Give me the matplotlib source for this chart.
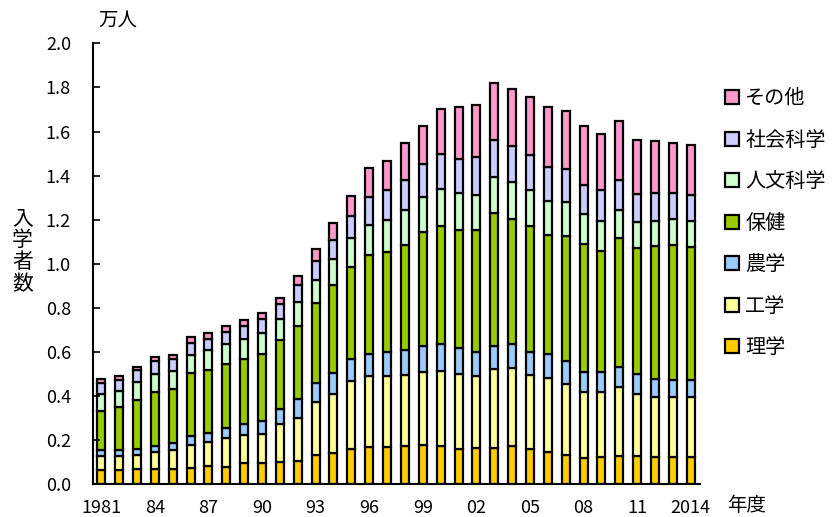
import matplotlib.pyplot as plt
import numpy as np

plt.rcParams['font.family'] = ['Noto Sans CJK JP', 'DejaVu Sans']

years = list(range(1981, 2015))
year_labels = ["1981", "84", "87", "90", "93", "96", "99", "02", "05", "08", "11", "2014"]

# 入学者数 (万人), by field, bottom to top of each stack
rigaku = [0.062, 0.062, 0.066, 0.066, 0.066, 0.071, 0.083, 0.078, 0.093, 0.093,
          0.101, 0.106, 0.131, 0.139, 0.160, 0.169, 0.169, 0.172, 0.177, 0.174,
          0.160, 0.162, 0.162, 0.172, 0.157, 0.146, 0.131, 0.119, 0.124, 0.127,
          0.127, 0.124, 0.124, 0.124]
kogaku = [0.066, 0.065, 0.065, 0.078, 0.088, 0.106, 0.109, 0.129, 0.129, 0.135,
          0.171, 0.195, 0.243, 0.268, 0.308, 0.321, 0.321, 0.323, 0.330, 0.339,
          0.340, 0.328, 0.359, 0.356, 0.338, 0.337, 0.322, 0.297, 0.292, 0.315,
          0.282, 0.272, 0.269, 0.272]
nogaku = [0.024, 0.027, 0.028, 0.028, 0.033, 0.041, 0.038, 0.046, 0.049, 0.058,
          0.067, 0.083, 0.083, 0.096, 0.101, 0.100, 0.111, 0.111, 0.117, 0.122,
          0.116, 0.110, 0.107, 0.107, 0.105, 0.109, 0.106, 0.094, 0.094, 0.090,
          0.089, 0.081, 0.079, 0.076]
hoken = [0.180, 0.194, 0.222, 0.246, 0.243, 0.285, 0.289, 0.290, 0.294, 0.303,
         0.315, 0.334, 0.364, 0.401, 0.415, 0.449, 0.450, 0.480, 0.518, 0.534,
         0.538, 0.554, 0.602, 0.568, 0.572, 0.536, 0.565, 0.580, 0.549, 0.583,
         0.573, 0.604, 0.613, 0.605]
jinbun = [0.078, 0.074, 0.081, 0.080, 0.083, 0.083, 0.087, 0.091, 0.091, 0.094,
          0.096, 0.109, 0.106, 0.117, 0.132, 0.138, 0.149, 0.156, 0.159, 0.171,
          0.167, 0.159, 0.163, 0.169, 0.161, 0.158, 0.156, 0.135, 0.136, 0.129,
          0.118, 0.114, 0.119, 0.118]
shakai = [0.048, 0.050, 0.053, 0.058, 0.053, 0.053, 0.054, 0.056, 0.061, 0.065,
          0.066, 0.077, 0.083, 0.085, 0.099, 0.124, 0.133, 0.139, 0.152, 0.158,
          0.156, 0.170, 0.170, 0.161, 0.159, 0.151, 0.151, 0.134, 0.141, 0.134,
          0.127, 0.126, 0.117, 0.118]
sonota = [0.018, 0.020, 0.018, 0.019, 0.020, 0.027, 0.023, 0.025, 0.028, 0.027,
          0.027, 0.039, 0.058, 0.079, 0.094, 0.134, 0.132, 0.167, 0.174, 0.205,
          0.235, 0.239, 0.257, 0.261, 0.263, 0.275, 0.261, 0.268, 0.254, 0.268,
          0.247, 0.234, 0.227, 0.227]

fields = ["理学", "工学", "農学", "保健", "人文科学", "社会科学", "その他"]
colors = ["#FFCC00", "#FFFF99", "#99CCFF", "#99CC00", "#CCFFCC", "#CCCCFF", "#FF99CC"]
series = [rigaku, kogaku, nogaku, hoken, jinbun, shakai, sonota]

fig = plt.figure(figsize=(8.32, 5.17), dpi=100)
ax = fig.add_axes([0.112, 0.064, 0.729, 0.852])

x = np.arange(len(years))
bottom = np.zeros(len(years))
bars = []
for vals, name, c in zip(series, fields, colors):
    b = ax.bar(x, vals, width=0.45, bottom=bottom, color=c, edgecolor='black',
               linewidth=1.6, label=name)
    bars.append(b)
    bottom += np.array(vals)

ax.set_xlim(-0.45, 33.5)
ax.set_ylim(0, 2.0)
ax.set_yticks(np.arange(0, 2.01, 0.2))
ax.set_yticklabels([f"{v:.1f}" for v in np.arange(0, 2.01, 0.2)], fontsize=13)
ax.set_xticks(x[::3])
ax.set_xticklabels(year_labels, fontsize=13)
ax.tick_params(axis='y', direction='in', length=5, width=1.2, pad=16)
ax.tick_params(axis='x', length=0, pad=11)
for s in ['top', 'right']:
    ax.spines[s].set_visible(False)
ax.spines['left'].set_linewidth(1.5)
ax.spines['bottom'].set_linewidth(1.5)

fig.text(0.142, 0.96, "万人", fontsize=14, ha='center', va='center')
fig.text(0.027, 0.515, "入\n学\n者\n数", fontsize=15, ha='center', va='center',
         linespacing=1.0)
fig.text(0.897, 0.022, "年度", fontsize=14, ha='center', va='center')

ax.legend(bars[::-1], fields[::-1], loc='upper left', bbox_to_anchor=(0.862, 0.845),
          bbox_transform=fig.transFigure, frameon=False, fontsize=14.5,
          handlelength=0.7, handleheight=0.7, handletextpad=0.3,
          labelspacing=1.02, borderaxespad=0)

plt.savefig("out.png", dpi=100)
